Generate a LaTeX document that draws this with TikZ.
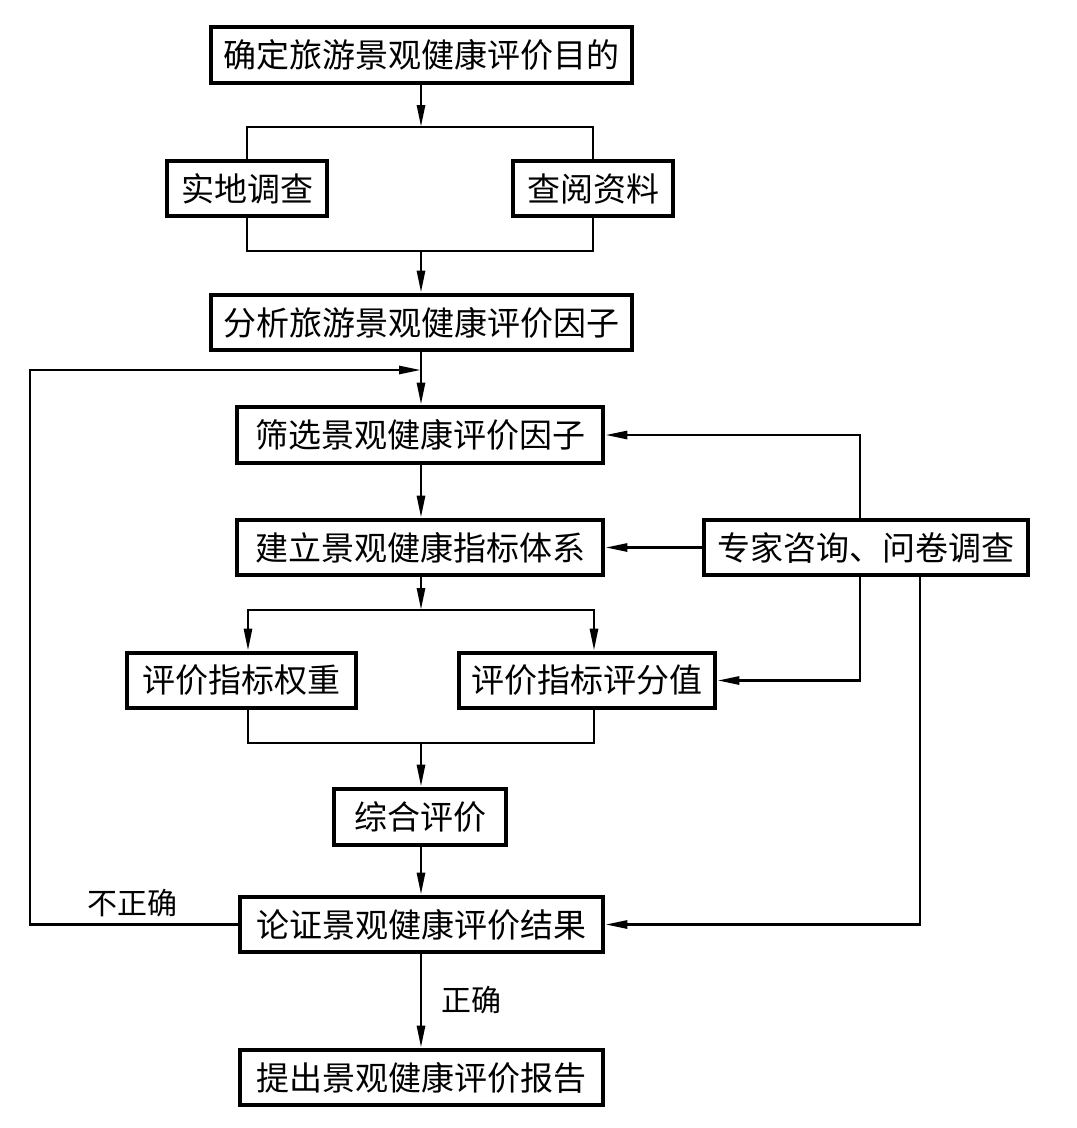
\documentclass[tikz,border=0pt]{standalone}
\usepackage{fontspec}
\newfontfamily\cjk{Noto Sans CJK SC}
\usetikzlibrary{arrows.meta,calc}
\tikzset{
  box/.style={draw, line width=4.6pt, rectangle, inner sep=0pt, font=\cjk\fontsize{33}{33}\selectfont},
  lbl/.style={inner sep=0pt, font=\cjk\fontsize{30}{30}\selectfont},
  con/.style={line width=2.7pt},
  arr/.style={con, -{Triangle[length=22pt,width=8pt]}}
}
\begin{document}
\begin{tikzpicture}[x=1pt,y=-1pt]
\useasboundingbox[fill=white] (0,0) rectangle (1077,1128);
% boxes
\node[box, minimum width=421pt, minimum height=56pt] (b1) at (421.5,55) {确定旅游景观健康评价目的};
\node[box, minimum width=160pt, minimum height=55pt] (b2a) at (247,188.5) {实地调查};
\node[box, minimum width=160pt, minimum height=55pt] (b2b) at (593,188.5) {查阅资料};
\node[box, minimum width=421pt, minimum height=55pt] (b3) at (421.5,322.5) {分析旅游景观健康评价因子};
\node[box, minimum width=366pt, minimum height=56pt] (b4) at (420,435) {筛选景观健康评价因子};
\node[box, minimum width=366pt, minimum height=55pt] (b5) at (420,547.5) {建立景观健康指标体系};
\node[box, minimum width=324pt, minimum height=55pt] (ex) at (866,547.5) {专家咨询、问卷调查};
\node[box, minimum width=229pt, minimum height=55pt] (w) at (241.5,680.5) {评价指标权重};
\node[box, minimum width=256pt, minimum height=55pt] (s) at (587,680.5) {评价指标评分值};
\node[box, minimum width=172pt, minimum height=56pt] (z) at (420,817) {综合评价};
\node[box, minimum width=363pt, minimum height=55pt] (l) at (421.5,924.5) {论证景观健康评价结果};
\node[box, minimum width=363pt, minimum height=55pt] (r) at (421.5,1077.5) {提出景观健康评价报告};
% labels
\node[lbl] (no) at (132,903) {不正确};
\node[lbl] (yes) at (471,1000) {正确};
% junction coordinates
\coordinate (t1) at (421,127);
\coordinate (t2) at (421,251);
\coordinate (fb) at (30,370);
\coordinate (fbm) at (421,370);
\coordinate (t3) at (421,610);
\coordinate (t4) at (421,743);
% connectors
\draw[arr] (b1.south -| t1) -- (t1);
\draw[con] (b2a.north) |- (t1) -| (b2b.north);
\draw[con] (b2a.south) |- (t2) -| (b2b.south);
\draw[arr] (t2) -- (b3.north -| t2);
\draw[arr] (b3.south -| t1) -- (b4.north -| t1);
\draw[arr] (l.west) -| (fb) -- (fbm);
\draw[arr] (b4.south -| t1) -- (b5.north -| t1);
\draw[arr] (ex.west) -- (b5.east);
\draw[arr] ([xshift=-6pt]ex.north) |- (b4.east);
\draw[arr] ([xshift=-6pt]ex.south) |- (s.east);
\draw[arr] ([xshift=54pt]ex.south) |- (l.east);
\draw[arr] (b5.south -| t3) -- (t3);
\draw[arr] (t3) -| ([xshift=6.5pt]w.north);
\draw[arr] (t3) -| ([xshift=7pt]s.north);
\draw[con] ([xshift=6.5pt]w.south) |- (t4) -| ([xshift=7pt]s.south);
\draw[arr] (t4) -- (z.north -| t4);
\draw[arr] (z.south -| t4) -- (l.north -| t4);
\draw[arr] (l.south -| t4) -- (r.north -| t4);
\end{tikzpicture}
\end{document}
